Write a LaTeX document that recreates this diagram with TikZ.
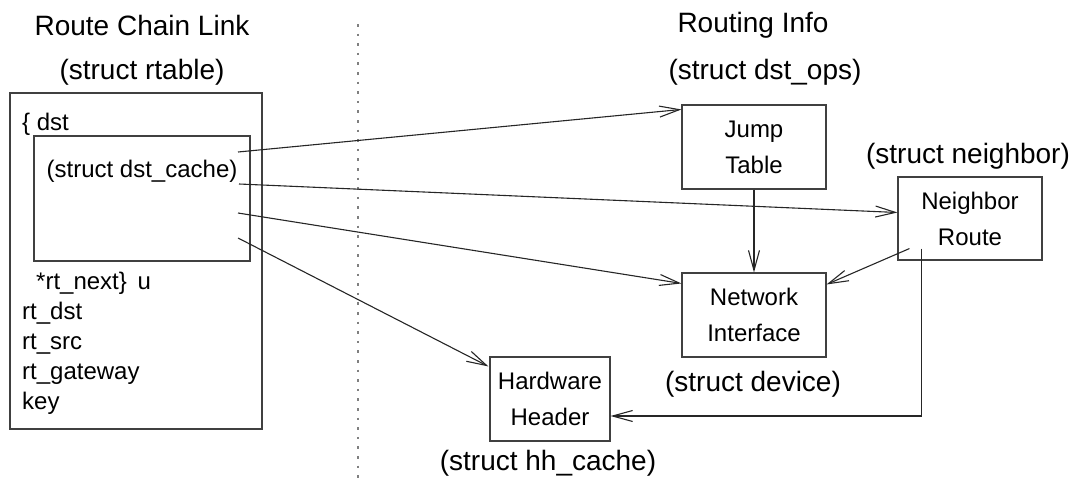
\documentclass[tikz,border=0pt]{standalone}
\usepackage{fontspec}
\setmainfont{Liberation Sans}
\usetikzlibrary{arrows.meta,calc}
\begin{document}
\begin{tikzpicture}[x=1pt,y=-1pt,
  box/.style={draw=black!75,line width=1.1pt,inner sep=0pt,align=center,
    font=\fontsize{24}{36}\selectfont},
  small/.style={inner sep=0pt,font=\fontsize{24}{36}\selectfont},
  big/.style={inner sep=0pt,font=\fontsize{28}{34}\selectfont},
  conn/.style={draw=black!85,line width=1.1pt,-{Straight Barb[length=20pt,width=11pt,line width=1.1pt]}}]
\useasboundingbox (0,0) rectangle (1077,485);
% dotted separator
\coordinate (d1) at (358,24);
\coordinate (d2) at (358,482);
\draw[gray,line width=2.6pt,dash pattern=on 2.6pt off 7pt] (d1) -- (d2);
% titles
\node[big] (t1) at (142,25) {Route Chain Link};
\node[big] (t2) at (142,72) {(struct rtable)};
\node[big] (t3) at (753,25) {Routing Info};
\node[big] (t4) at (765,72) {(struct dst\_ops)};
\node[big] (t5) at (968,156) {(struct neighbor)};
\node[big] (t6) at (753,384) {(struct device)};
\node[big] (t7) at (548,463) {(struct hh\_cache)};
% left structure
\node[box,minimum width=252pt,minimum height=336pt] (rt) at (136,261) {};
\node[box,minimum width=216pt,minimum height=125pt] (dc) at (142,198.5) {};
\node[small,anchor=base west] (l0) at (22,130) {\{ dst};
\node[small] (l1) at (142,171) {(struct dst\_cache)};
\node[small,anchor=base west] (l2) at (36,289) {*rt\_next\}\hspace{0.45em}u};
\node[small,anchor=base west] (l3) at (22,319) {rt\_dst};
\node[small,anchor=base west] (l4) at (22,349) {rt\_src};
\node[small,anchor=base west] (l5) at (22,379) {rt\_gateway};
\node[small,anchor=base west] (l6) at (22,409) {key};
% right boxes
\node[box,minimum width=144pt,minimum height=84pt] (jt) at (754,147) {Jump\\Table};
\node[box,minimum width=144pt,minimum height=84pt] (ni) at (754,315) {Network\\Interface};
\node[box,minimum width=120pt,minimum height=84pt] (hh) at (550,399) {Hardware\\Header};
\node[box,minimum width=144pt,minimum height=83pt] (nr) at (970,218.5) {Neighbor\\Route};
% arrow sources
\coordinate (a1) at (238,152);
\coordinate (a2) at (239,184);
\coordinate (a3) at (238,213);
\coordinate (a4) at (238,238);
\draw[conn] (a1) -- ([yshift=-5pt]jt.north west);
\draw[conn] (a2) -- ([yshift=6pt]nr.west);
\draw[conn] (a3) -- ([yshift=-11pt]ni.north west);
\draw[conn] (a4) -- ([yshift=-10pt,xshift=-1pt]hh.north west);
\draw[conn] (jt.south) -- (ni.north);
\draw[conn] ([xshift=12pt,yshift=12pt]nr.south west) -- ([yshift=-12pt]ni.north east);
\draw[conn] ([xshift=24pt,yshift=12pt]nr.south west) |- ([yshift=-17pt]hh.east);
\end{tikzpicture}
\end{document}
